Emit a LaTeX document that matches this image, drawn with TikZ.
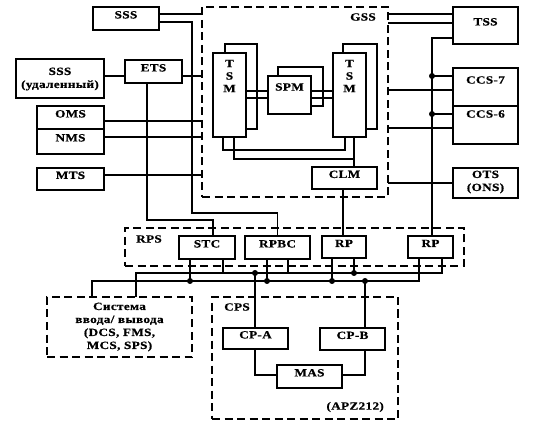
\documentclass[tikz,border=0pt]{standalone}
\usepackage{fontspec}
\usetikzlibrary{fit}
\newfontfamily\dfont{Liberation Serif}[FakeStretch=1.2,LetterSpace=3,FakeBold=0.6]
\newcommand\dlbl{\dfont\bfseries\fontsize{11}{13}\selectfont}
\begin{document}
\begin{tikzpicture}[x=1pt,y=-1pt,
  box/.style={draw, line width=2pt, fill=white, inner sep=0pt, outer sep=0pt, font=\dlbl},
  frame/.style={draw, line width=2.4pt, dash pattern=on 8pt off 4.5pt, inner sep=0pt, outer sep=0pt},
  txt/.style={inner sep=0pt, align=center, font=\dlbl},
  ln/.style={line width=1.8pt},
  tl/.style={line width=1.1pt},
  dot/.style={circle, fill=black, inner sep=0pt, minimum size=6pt}]
\fill[white] (0,0) rectangle (547,425);
\useasboundingbox (0,0) rectangle (547,425);

% dashed frames
\node[frame, fit={(202,7)(388,197)}] (gss) {};
\node[frame, fit={(125,228)(464,266)}] (rps) {};
\node[frame, fit={(47,297)(192,357)}] (io) {};
\node[frame, fit={(212,297)(398,419)}] (cps) {};
\node[txt, anchor=east] (gssl) at (376,17) {GSS};
\node[txt, anchor=west] (rpsl) at (136,239) {RPS};
\node[txt, anchor=west] (cpsl) at (224,307) {CPS};
\node[txt, anchor=east] (apz) at (384,407) {(APZ212)};
\node[txt] (iot) at (119.5,327) {Система\\ввода/ вывода\\(DCS, FMS,\\MCS, SPS)};

% left boxes
\node[box, fit={(93,7)(159,30)}] (sss) {SSS};
\node[box, fit={(16,59)(104,98)}] (sssr) {};
\node[txt] (sssrt) at (60,79) {SSS\\(удаленный)};
\node[box, fit={(125,60)(182,83)}] (ets) {ETS};
\node[box, fit={(37,106)(104,129)}] (oms) {OMS};
\node[box, fit={(37,129)(104,154)}] (nms) {NMS};
\node[box, fit={(37,168)(104,190)}] (mts) {MTS};

% right boxes
\node[box, fit={(453,7)(518,44)}] (tss) {TSS};
\node[box, fit={(453,68)(518,106)}] (ccs7) {};
\node[txt] (ccs7t) at (485.5,80) {CCS-7};
\node[box, fit={(453,106)(518,144)}] (ccs6) {};
\node[txt] (ccs6t) at (485.5,114) {CCS-6};
\node[box, fit={(453,168)(518,198)}] (ots) {};
\node[txt] (otst) at (485.5,182) {OTS\\(ONS)};

% GSS inside
\node[box, fit={(225,44)(257,129)}] (tsmLb) {};
\node[box, fit={(213,53)(246,137)}] (tsmL) {};
\node[txt, font={\dlbl\fontsize{11}{12.5}\selectfont}] (tsmLt) at (229.5,76) {T\\S\\M};
\node[box, fit={(343,44)(377,129)}] (tsmRb) {};
\node[box, fit={(333,53)(366,137)}] (tsmR) {};
\node[txt, font={\dlbl\fontsize{11}{12.5}\selectfont}] (tsmRt) at (349.5,76) {T\\S\\M};
\node[box, fit={(278,67)(323,106)}] (spmb) {};
\node[box, fit={(268,76)(311,114)}] (spm) {};
\node[txt] (spmt) at (289.5,87) {SPM};
\node[box, fit={(312,167)(377,189)}] (clm) {CLM};

% RPS
\node[box, fit={(179,236)(235,259)}] (stc) {STC};
\node[box, fit={(245,236)(310,259)}] (rpbc) {RPBC};
\node[box, fit={(322,236)(366,258)}] (rp1) {RP};
\node[box, fit={(408,236)(453,258)}] (rp2) {RP};

% CPS
\node[box, fit={(223,328)(288,349)}] (cpa) {CP-A};
\node[box, fit={(320,328)(385,350)}] (cpb) {CP-B};
\node[box, fit={(277,365)(342,388)}] (mas) {MAS};

% left connectors
\draw[ln] (sss.east |- 0,14) -- (gss.west |- 0,14);
\draw[ln] (sss.east |- 0,22) -| (192,213) -| (rpbc.north);
\draw[ln] (sssr.east |- 0,76) -- (ets.west |- 0,76);
\draw[ln] (ets.east |- 0,76) -- (gss.west |- 0,76);
\draw[ln] (ets.south -| 147,0) |- (213,220) -- (stc.north -| 213,0);
\draw[tl] (oms.east |- 0,121) -- (gss.west |- 0,121);
\draw[ln] (nms.east |- 0,137) -- (gss.west |- 0,137);
\draw[ln] (mts.east |- 0,175) -- (gss.west |- 0,175);

% right connectors
\draw[ln] (gss.east |- 0,14) -- (tss.west |- 0,14);
\draw[ln] (gss.east |- 0,23) -- (tss.west |- 0,23);
\draw[ln] (tss.west |- 0,38) -| (rp2.north -| 432,0);
\coordinate (j7) at (432,76);
\coordinate (j6) at (432,114);
\draw[ln] (j7) -- (ccs7.west |- j7);
\draw[ln] (j6) -- (ccs6.west |- j6);
\node[dot] (d7) at (j7) {};
\node[dot] (d6) at (j6) {};
\draw[ln] (gss.east |- 0,90) -- (ccs7.west |- 0,90);
\draw[ln] (gss.east |- 0,128) -- (ccs6.west |- 0,128);
\draw[ln] (gss.east |- 0,183) -- (ots.west |- 0,183);

% inside GSS
\draw[ln] (tsmL.east |- 0,91) -- (spm.west |- 0,91);
\draw[ln] (tsmL.east |- 0,98) -- (spm.west |- 0,98);
\draw[ln] (spm.east |- 0,91) -- (tsmR.west |- 0,91);
\draw[ln] (spm.east |- 0,98) -- (tsmR.west |- 0,98);
\draw[ln] (tsmL.south -| 223,0) |- (345,150) -- (tsmR.south -| 345,0);
\draw[ln] (tsmL.south -| 234,0) |- (354,159);
\draw[ln] (tsmR.south -| 354,0) -- (clm.north -| 354,0);
\draw[tl] (clm.south -| 343,0) -- (rp1.north -| 343,0);

% buses
\draw[ln] (io.north -| 136,0) |- (442,273) -- (rp2.south -| 442,0);
\draw[ln] (io.north -| 92,0) |- (419,281) -- (rp2.south -| 419,0);
\draw[ln] (stc.south -| 190,0) -- (190,281);
\draw[ln] (stc.south -| 223,0) -- (223,273);
\draw[ln] (rpbc.south -| 267,0) -- (267,281);
\draw[ln] (rpbc.south -| 288,0) -- (288,273);
\draw[ln] (rp1.south -| 332,0) -- (332,281);
\draw[ln] (rp1.south -| 354,0) -- (354,273);
\draw[ln] (255,273) -- (cpa.north -| 255,0);
\draw[ln] (365,281) -- (cpb.north -| 365,0);
\draw[ln] (cpa.south -| 255,0) |- (mas.west |- 0,375);
\draw[ln] (cpb.south -| 365,0) |- (mas.east |- 0,375);
\node[dot] (b1) at (190,281) {};
\node[dot] (b2) at (255,273) {};
\node[dot] (b3) at (267,281) {};
\node[dot] (b4) at (332,281) {};
\node[dot] (b5) at (354,273) {};
\node[dot] (b6) at (365,281) {};
\end{tikzpicture}
\end{document}
